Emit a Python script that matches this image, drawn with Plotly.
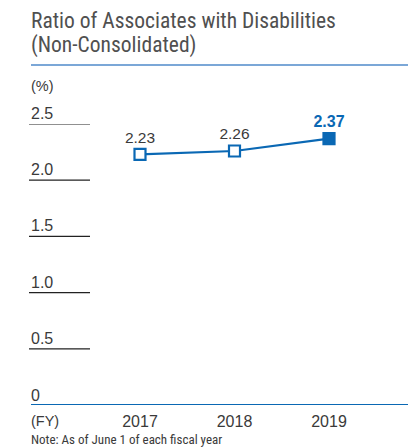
import plotly.graph_objects as go

years = [2017, 2018, 2019]
ratios = [2.23, 2.26, 2.37]
y_ticks = [0.5, 1.0, 1.5, 2.0, 2.5]
y_tick_labels = ["0.5", "1.0", "1.5", "2.0", "2.5"]
title_lines = ["Ratio of Associates with Disabilities", "(Non-Consolidated)"]
note_text = "Note: As of June 1 of each fiscal year"

BLUE = "#0a68b4"
DARK = "#3a3a3a"
NARROW = "Liberation Sans Narrow, Roboto Condensed, Roboto, Liberation Sans, Arial"
SANS = "Liberation Sans, Arial, Helvetica"

labels = [f"{v:.2f}" for v in ratios]
labels[-1] = f"<b>{ratios[-1]:.2f}</b>"
text_colors = [DARK] * (len(ratios) - 1) + [BLUE]
text_sizes = [15.5] * (len(ratios) - 1) + [16]
marker_fill = ["white"] * (len(ratios) - 1) + [BLUE]

fig = go.Figure()
fig.add_trace(go.Scatter(
    x=years, y=ratios,
    mode="lines+markers+text",
    line=dict(color=BLUE, width=2.2),
    marker=dict(symbol="square", size=11, color=marker_fill,
                line=dict(color=BLUE, width=2.2)),
    text=labels,
    textposition="top center",
    textfont=dict(family=SANS, size=text_sizes, color=text_colors),
    cliponaxis=False,
    hoverinfo="skip",
))

L, R, T, B = 29, 0, 124, 43
W, H = 408, 448
plot_w = W - L - R
px_per_year = 94.5
x0 = years[0] - (140 - L) / px_per_year
x1 = x0 + plot_w / px_per_year

shapes = []
annotations = []
ul = (90 - L) / plot_w
for v, lab in zip(y_ticks, y_tick_labels):
    shapes.append(dict(type="line", xref="paper", yref="y", x0=0, x1=ul, y0=v, y1=v,
                       line=dict(color="#222222", width=1.2)))
    annotations.append(dict(xref="paper", yref="y", x=0, y=v, text=lab, showarrow=False,
                            xanchor="left", yanchor="bottom", yshift=0,
                            font=dict(family=SANS, size=16, color=DARK)))
annotations.append(dict(xref="paper", yref="y", x=0, y=0, text="0", showarrow=False,
                        xanchor="left", yanchor="bottom", yshift=-1,
                        font=dict(family=SANS, size=16, color=DARK)))
shapes.append(dict(type="line", xref="paper", yref="y", x0=(31 - L) / plot_w, x1=1, y0=0, y1=0,
                   line=dict(color=BLUE, width=2)))
ph = H - T - B
def ypaper(py):
    return (H - B - py) / ph

shapes.append(dict(type="line", xref="paper", yref="paper", x0=(31 - L) / plot_w, x1=1,
                   y0=ypaper(65), y1=ypaper(65), line=dict(color="#7ba7d7", width=2)))

annotations.append(dict(xref="paper", yref="paper", x=0, y=ypaper(86), text="(%)",
                        showarrow=False, xanchor="left", yanchor="middle",
                        font=dict(family=SANS, size=14.5, color=DARK)))
annotations.append(dict(xref="paper", yref="paper", x=0, y=ypaper(421), text="(FY)",
                        showarrow=False, xanchor="left", yanchor="middle",
                        font=dict(family=SANS, size=14.5, color=DARK)))
annotations.append(dict(xref="paper", yref="paper", x=0, y=ypaper(439), text=note_text,
                        showarrow=False, xanchor="left", yanchor="middle",
                        font=dict(family=NARROW, size=13, color=DARK)))
annotations.append(dict(xref="paper", yref="paper", x=0, y=ypaper(20), text=title_lines[0],
                        showarrow=False, xanchor="left", yanchor="middle",
                        font=dict(family=NARROW, size=21.5, color="#505050")))
annotations.append(dict(xref="paper", yref="paper", x=0, y=ypaper(45), text=title_lines[1],
                        showarrow=False, xanchor="left", yanchor="middle",
                        font=dict(family=NARROW, size=21.5, color="#505050")))

fig.update_layout(
    width=W, height=H,
    margin=dict(l=L, r=R, t=T, b=B, pad=0),
    paper_bgcolor="white", plot_bgcolor="white",
    showlegend=False,
    shapes=shapes,
    annotations=annotations,
    xaxis=dict(range=[x0, x1], tickmode="array", tickvals=years,
               ticktext=[str(y) for y in years], showgrid=False, zeroline=False,
               showline=False, ticks="", ticklen=0, ticklabelstandoff=5,
               tickfont=dict(family=SANS, size=16, color=DARK), fixedrange=True),
    yaxis=dict(range=[0, 2.5], showticklabels=False, showgrid=False, zeroline=False,
               showline=False, ticks="", fixedrange=True),
)

fig.write_html("out.html", config={"displayModeBar": False},
               post_script="document.body.style.margin='0';document.body.style.overflow='hidden';")
